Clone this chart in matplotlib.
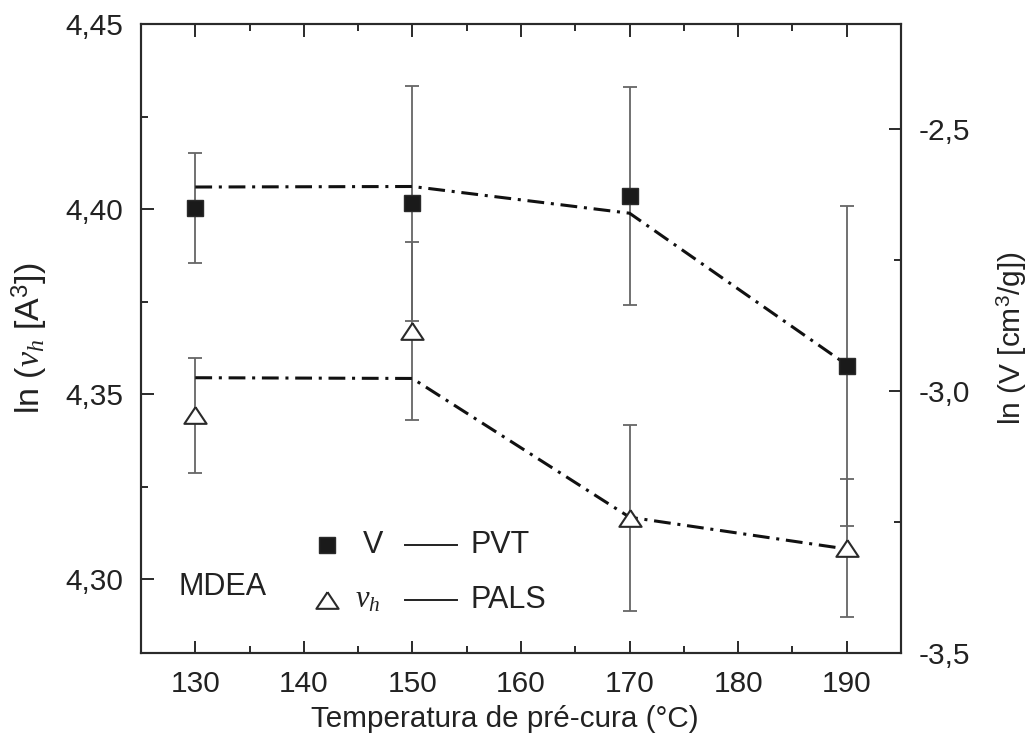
import matplotlib
matplotlib.use("Agg")
import matplotlib.pyplot as plt
from matplotlib.ticker import MultipleLocator, FuncFormatter

plt.rcParams['font.family'] = ['Liberation Sans', 'DejaVu Sans']
plt.rcParams['mathtext.fontset'] = 'custom'
plt.rcParams['mathtext.rm'] = 'Liberation Sans'
plt.rcParams['mathtext.it'] = 'Liberation Serif:italic'

# ---------------- data ----------------
temps = [130, 150, 170, 190]
# ln V (PVT), right axis
lnV = [-2.651, -2.642, -2.629, -2.952]
lnV_err = [0.105, 0.224, 0.208, 0.305]
lnV_fit = [-2.611, -2.610, -2.661, -2.950]
# ln v_h (PALS), left axis
lnvh = [4.3442, 4.3671, 4.3164, 4.3084]
lnvh_err = [0.0155, 0.0240, 0.0251, 0.0186]
lnvh_fit = [4.3544, 4.3542, 4.3167, 4.3081]

xticks = [130, 140, 150, 160, 170, 180, 190]
left_ticks = [4.30, 4.35, 4.40, 4.45]
right_ticks = [-3.5, -3.0, -2.5]

DARK = '#2a2a2a'
TXT = '#222222'
ERR = '#666666'
FS_TICK = 21.5
FS_LAB = 21.3
FS_LEG = 22
dashdot = (0, (5.5, 2.2, 1.0, 2.2))

fig = plt.figure(figsize=(10.31, 7.34), dpi=100)
ax = fig.add_axes([141/1031, 1 - 653/734, 760/1031, 629/734])
ax2 = ax.twinx()

tri = [(0, 0.75), (-1, -0.75), (1, -0.75), (0, 0.75)]

# left axis: v_h
ax.plot(temps, lnvh_fit, linestyle=dashdot, color='#111111', lw=2.2, zorder=2)
ax.errorbar(temps, lnvh, yerr=lnvh_err, fmt='none', ecolor=ERR, elinewidth=1.3,
            capsize=4.7, capthick=1.3, zorder=1)
ax.plot(temps, lnvh, linestyle='none', marker=tri, ms=16, mfc='white',
        mec=DARK, mew=1.5, zorder=4)

# right axis: V
ax2.plot(temps, lnV_fit, linestyle=dashdot, color='#111111', lw=2.2, zorder=2)
ax2.errorbar(temps, lnV, yerr=lnV_err, fmt='none', ecolor=ERR, elinewidth=1.3,
             capsize=4.7, capthick=1.3, zorder=1)
ax2.plot(temps, lnV, linestyle='none', marker='s', ms=12, mfc='#1a1a1a',
         mec=DARK, mew=1.0, zorder=4)

ax.set_xlim(125, 195)
ax.set_ylim(4.28, 4.45)
ax2.set_ylim(-3.5, -2.3)

comma = FuncFormatter(lambda v, p: ('%.2f' % v).replace('.', ','))
comma1 = FuncFormatter(lambda v, p: ('%.1f' % v).replace('.', ','))
ax.set_xticks(xticks)
ax.xaxis.set_minor_locator(MultipleLocator(5))
ax.set_yticks(left_ticks)
ax.yaxis.set_major_formatter(comma)
ax.yaxis.set_minor_locator(MultipleLocator(0.025))
ax2.set_yticks(right_ticks)
ax2.yaxis.set_major_formatter(comma1)
ax2.yaxis.set_minor_locator(MultipleLocator(0.25))

for a in (ax, ax2):
    for s in a.spines.values():
        s.set_linewidth(1.5)
        s.set_color(DARK)
ax.tick_params(axis='x', which='both', direction='in', top=True, bottom=True,
               labelsize=FS_TICK, pad=12, colors=DARK, labelcolor=TXT)
ax.tick_params(axis='y', which='both', direction='in', left=True, right=False,
               labelsize=FS_TICK, pad=13, colors=DARK, labelcolor=TXT)
ax2.tick_params(axis='y', which='both', direction='in', right=True, left=False,
                labelsize=FS_TICK, pad=13, colors=DARK, labelcolor=TXT)
for a in (ax, ax2):
    a.tick_params(which='major', length=9, width=1.4)
    a.tick_params(which='minor', length=5, width=1.4)

ax.set_xlabel('Temperatura de pré-cura (°C)', fontsize=FS_LAB, color=TXT)
ax.xaxis.set_label_coords(0.479, -0.083)
ax.set_ylabel(r'ln ($v_h$ [A$^3$])', fontsize=24.5, color=TXT)
ax.yaxis.set_label_coords(-0.1197, 0.5)
ax2.set_ylabel(r'ln (V [cm$^3$/g])', fontsize=21.5, color=TXT, rotation=90)
ax2.yaxis.set_label_coords(1.124, 0.5)

# legend / annotation
T = ax.transAxes
ax.plot([0.2447], [0.1717], transform=T, marker='s', ms=12, mfc='#1a1a1a',
        mec=DARK, mew=1.0, linestyle='none', clip_on=False)
ax.plot([0.2447], [0.0843], transform=T, marker=tri, ms=16, mfc='white',
        mec=DARK, mew=1.5, linestyle='none', clip_on=False)
ax.text(0.292, 0.1717, 'V', transform=T, fontsize=FS_LEG, va='center', ha='left', color=TXT)
ax.text(0.281, 0.0843, r'$v_h$', transform=T, fontsize=FS_LEG, va='center', ha='left', color=TXT)
ax.plot([0.3474, 0.4158], [0.1717, 0.1717], transform=T, color=TXT, lw=1.4)
ax.plot([0.3474, 0.4158], [0.0843, 0.0843], transform=T, color=TXT, lw=1.4)
ax.text(0.4329, 0.1717, 'PVT', transform=T, fontsize=FS_LEG, va='center', ha='left', color=TXT)
ax.text(0.4329, 0.0843, 'PALS', transform=T, fontsize=FS_LEG, va='center', ha='left', color=TXT)
ax.text(0.0487, 0.1049, 'MDEA', transform=T, fontsize=FS_LEG, va='center', ha='left', color=TXT)

fig.savefig('out.png', dpi=100)
